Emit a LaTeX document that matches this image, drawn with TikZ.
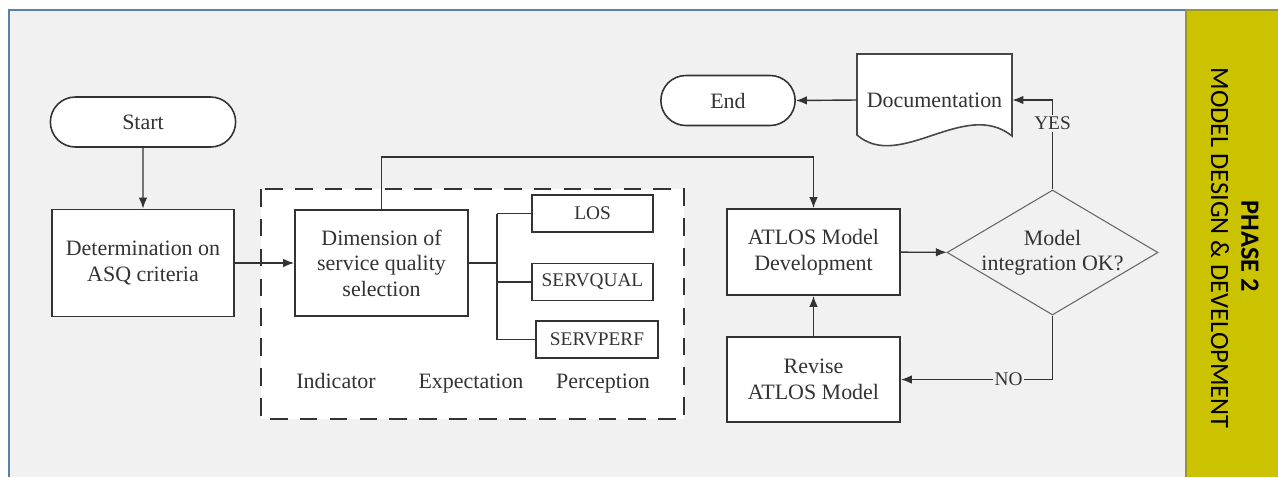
\documentclass[tikz,border=0pt]{standalone}
\usepackage{fontspec}
\setmainfont{Liberation Serif}
\newfontfamily\bandfont{Carlito}
\usepackage{tikz}
\usetikzlibrary{calc,shapes.geometric,shapes.misc,arrows.meta}
\usepackage{xcolor}
\definecolor{fondo}{HTML}{F1F1F1}
\definecolor{marco}{HTML}{5B80A5}
\definecolor{banda}{HTML}{CCC300}
\definecolor{bordebanda}{HTML}{9C9430}
\definecolor{linea}{HTML}{333333}

\tikzset{
  texto/.style={font=\fontsize{12.5}{14.5}\selectfont, text=linea, align=center},
  terminal/.style={texto, rounded rectangle, draw=linea, fill=white, line width=0.9pt, minimum height=1cm},
  proceso/.style={texto, rectangle, draw=linea, fill=white, line width=1pt, inner sep=0pt},
  opcion/.style={proceso, font=\fontsize{11}{13}\selectfont, minimum height=0.74cm},
  flecha/.style={draw=linea, line width=0.8pt, -{Latex[length=2.2mm,width=1.7mm]}},
  rama/.style={draw=linea, line width=0.8pt},
  etiqueta/.style={font=\fontsize{11}{13}\selectfont, fill=fondo, inner sep=1pt, text=linea},
}

\begin{document}
\begin{tikzpicture}[x=0.02cm, y=-0.02cm]
    \useasboundingbox (0,0) rectangle (1278,477);

    % Fondo y marco
    \fill[fondo] (9,10) rectangle (1186,477);
    \draw[marco, line width=1.4pt] (9,477) -- (9,10) -- (1186,10);

    % Banda de la fase
    \fill[banda] (1186,10) rectangle (1278,477);
    \draw[bordebanda, line width=1.2pt] (1186,477) -- (1186,10) -- (1278,10);
    \node[rotate=-90, font=\bandfont\bfseries\fontsize{15}{18}\selectfont] (fase) at (1250,246) {PHASE 2};
    \node[rotate=-90, font=\bandfont\fontsize{15}{18}\selectfont] (tema) at (1220,248) {MODEL DESIGN \& DEVELOPMENT};

    % Recuadro punteado de la dimension
    \draw[linea, line width=1.1pt, dash pattern=on 10pt off 7pt, fill=white] (261,189) rectangle (684,419);

    % Nodos
    \node[terminal, minimum width=3.94cm] (inicio) at (143,122) {Start};
    \node[proceso, minimum width=3.64cm, minimum height=2.14cm] (criterios) at (143,263) {Determination on\\ASQ criteria};
    \node[proceso, minimum width=3.46cm, minimum height=2.12cm] (dimension) at (381.5,263) {Dimension of\\service quality\\selection};
    \node[opcion, minimum width=2.42cm] (los) at (592.5,213.5) {LOS};
    \node[opcion, minimum width=2.42cm] (servqual) at (592.5,282) {SERVQUAL};
    \node[opcion, minimum width=2.44cm] (servperf) at (597,339.5) {SERVPERF};
    \node[texto, anchor=base] (indicador) at (336,388) {Indicator};
    \node[texto, anchor=base] (expectativa) at (471,388) {Expectation};
    \node[texto, anchor=base] (percepcion) at (603,388) {Perception};
    \node[proceso, minimum width=3.46cm, minimum height=1.72cm] (atlos) at (813.5,252) {ATLOS Model\\Development};
    \node[proceso, minimum width=3.46cm, minimum height=1.7cm] (revisar) at (813.5,379.5) {Revise\\ATLOS Model};
    \node[diamond, draw=gray!80!black, fill=fondo, line width=0.6pt, aspect=1.69,
          minimum width=4.22cm, minimum height=2.5cm, inner sep=0pt,
          label={[texto]center:{Model\\integration OK?}}] (control) at (1052.5,252.5) {};

    % Documento con borde ondulado
    \draw[linea!90, line width=0.9pt, fill=white] (857,54) -- (1012,54) -- (1012,136)
        .. controls (965,98) and (900,172) .. (857,135) -- cycle;
    \node[texto, minimum width=3.1cm, inner sep=0pt] (doc) at (934.5,100) {Documentation};
    \node[terminal, minimum width=2.92cm] (fin) at (728,100.5) {End};

    % Conectores
    \draw[flecha] (inicio) -- (criterios);
    \draw[flecha] (criterios) -- (dimension);
    \draw[flecha] (dimension.north) -- ++(0,-52) -| (atlos.north);
    \draw[rama] (dimension.east) -- ++(28,0) coordinate (nudo);
    \draw[rama] (nudo |- los.west) -- (nudo |- servperf.west);
    \foreach \op in {los,servqual,servperf}
        \draw[rama] (nudo |- \op.west) -- (\op.west);
    \draw[flecha] (atlos) -- (control);
    \draw[flecha] (control.north) |- node[etiqueta, pos=0.37] (si) {YES} (doc.east);
    \draw[flecha] (control.south) |- node[etiqueta, pos=0.645] (no) {NO} (revisar.east);
    \draw[flecha] (revisar) -- (atlos);
    \draw[flecha] (doc.west) -- (fin.east);
\end{tikzpicture}
\end{document}
